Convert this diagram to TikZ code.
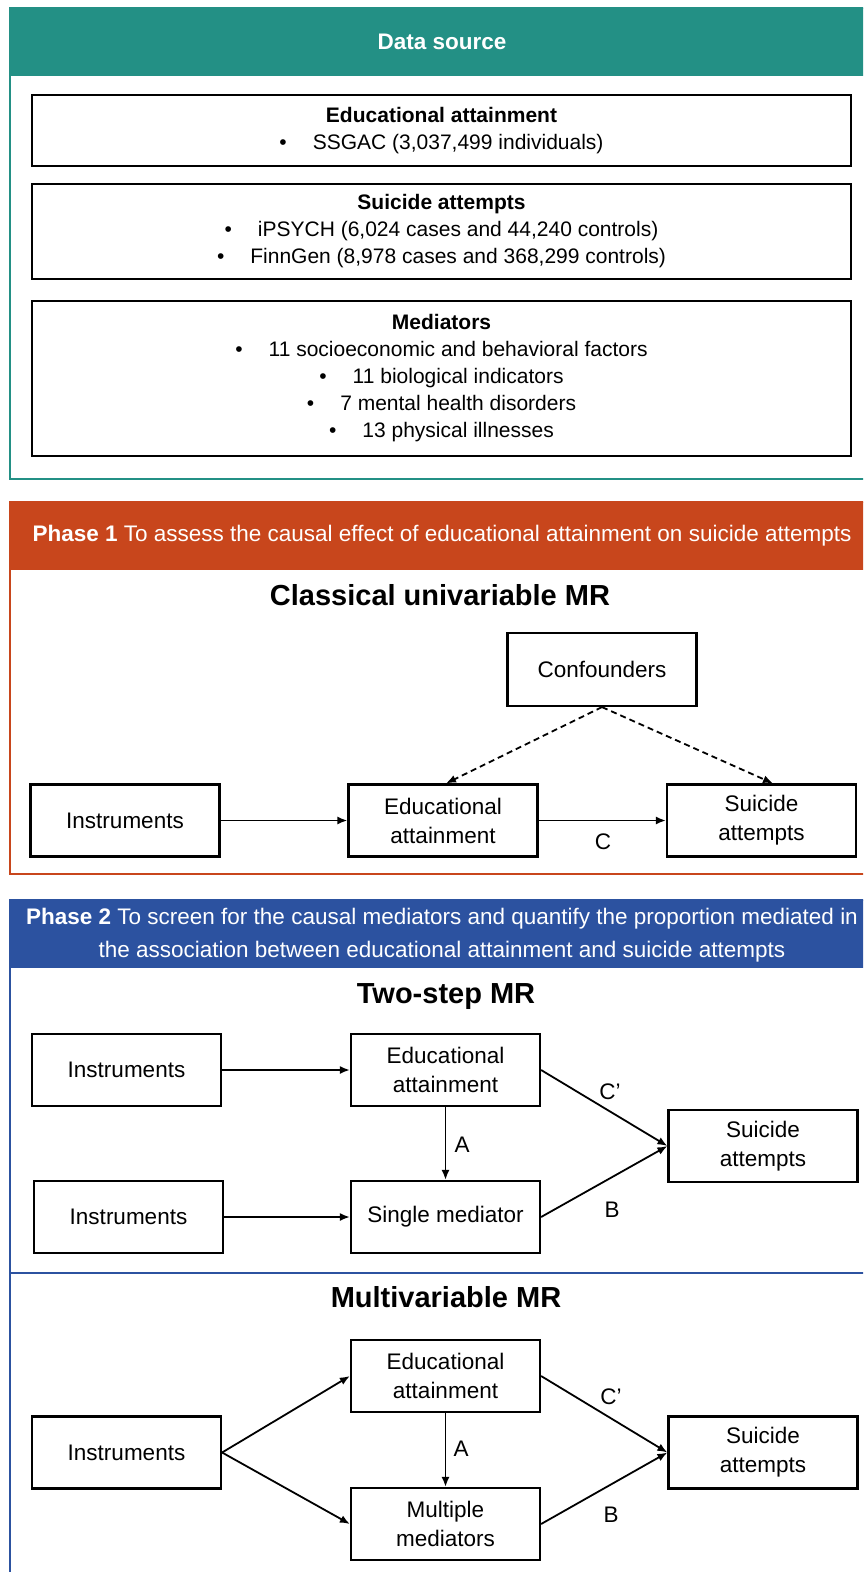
\documentclass[tikz,border=0pt]{standalone}
\usepackage{fontspec}
\setmainfont{Liberation Sans}
\usetikzlibrary{arrows.meta,calc}
\definecolor{tealh}{HTML}{239085}
\definecolor{orngh}{HTML}{C8461C}
\definecolor{bluh}{HTML}{2C52A0}
\begin{document}
\begin{tikzpicture}[x=0.5pt,y=-0.5pt,
  box/.style={draw=black,line width=1.1pt,minimum width=94.5pt,minimum height=36pt,align=center,inner sep=0pt,font=\fontsize{11.25}{14.5}\selectfont},
  dbox/.style={draw=black,line width=1.1pt,minimum width=409.5pt,align=center,inner sep=0pt,font=\fontsize{10.5}{13.5}\selectfont},
  arr/.style={-{Latex[length=5pt,width=4pt]},line width=0.9pt},
  dasharr/.style={arr,dash pattern=on 3pt off 2pt},
  lbl/.style={font=\fontsize{11.25}{13}\selectfont,inner sep=0pt},
  ttl/.style={font=\bfseries\fontsize{14.5}{17}\selectfont,inner sep=0pt},
  hdr/.style={text=white,font=\fontsize{11.25}{16.5}\selectfont,align=center,inner sep=0pt},
  panel/.style={line width=1pt},
]
\useasboundingbox (0,0) rectangle (863,1572);
\clip (0,0) rectangle (863,1572);
\fill[white] (0,0) rectangle (863,1572);

% ---------- Data source ----------
\draw[panel,draw=tealh] (10,8) rectangle (900,479);
\fill[tealh] (10,8) rectangle (900,76);
\node[hdr,font=\bfseries\fontsize{11.25}{13}\selectfont] (h0) at (442,42) {Data source};

\node[dbox,minimum height=35.5pt] (d1) at (441.5,130.5) {\textbf{Educational attainment}\\\textbullet\hspace{13pt}SSGAC (3,037,499 individuals)};
\node[dbox,minimum height=47.5pt] (d2) at (441.5,231.5) {\textbf{Suicide attempts}\\\textbullet\hspace{13pt}iPSYCH (6,024 cases and 44,240 controls)\\\textbullet\hspace{13pt}FinnGen (8,978 cases and 368,299 controls)};
\node[dbox,minimum height=77.5pt] (d3) at (441.5,378.5) {\textbf{Mediators}\\\textbullet\hspace{13pt}11 socioeconomic and behavioral factors\\\textbullet\hspace{13pt}11 biological indicators\\\textbullet\hspace{13pt}7 mental health disorders\\\textbullet\hspace{13pt}13 physical illnesses};

% ---------- Phase 1 ----------
\draw[panel,draw=orngh] (10,502) rectangle (900,874);
\fill[orngh] (10,502) rectangle (900,570);
\node[hdr] (h1) at (442,536) {\textbf{Phase 1} To assess the causal effect of educational attainment on suicide attempts};
\node[ttl] (t1) at (440,595) {Classical univariable MR};

\node[box] (p1i) at (125,820.5) {Instruments};
\node[box] (p1e) at (443,820.5) {Educational\\attainment};
\node[box] (p1s) at (761.5,820.5) {Suicide\\attempts};
\node[box,minimum height=36.5pt] (p1c) at (602,669.5) {Confounders};
\draw[arr] (p1i) -- (p1e);
\draw[arr] (p1e) -- (p1s);
\node[lbl] (lc) at (603,842) {C};
\draw[dasharr] (p1c.south) -- ($(p1e.north)+(3,0)$);
\draw[dasharr] (p1c.south) -- ($(p1s.north)+(11.5,0)$);

% ---------- Phase 2 ----------
\draw[panel,draw=bluh] (10,900) rectangle (900,1600);
\fill[bluh] (10,900) rectangle (900,968);
\draw[bluh,line width=1.2pt] (10,1273) -- (900,1273);
\node[hdr] (h2) at (442,935) {\textbf{Phase 2} To screen for the causal mediators and quantify the proportion mediated in\\the association between educational attainment and suicide attempts};

% Two-step MR
\node[ttl] (t2) at (446,997) {Two-step MR};
\node[box] (a1) at (126.5,1070) {Instruments};
\node[box] (ae) at (445.5,1070) {Educational\\attainment};
\node[box] (a2) at (128.5,1217) {Instruments};
\node[box] (am) at (445.5,1217) {Single mediator};
\node[box] (as) at (763,1146) {Suicide\\attempts};
\draw[arr] (a1) -- (ae);
\draw[arr] (a2) -- (am);
\draw[arr] (ae) -- (am);
\draw[arr] (ae.east) -- (as.west);
\draw[arr] (am.east) -- (as.west);
\node[lbl] (aA) at (462,1145) {A};
\node[lbl] (aC) at (610,1092) {C’};
\node[lbl] (aB) at (612,1210) {B};

% Multivariable MR
\node[ttl] (t3) at (446,1297) {Multivariable MR};
\node[box] (bi) at (126.5,1452.5) {Instruments};
\node[box] (be) at (445.5,1376) {Educational\\attainment};
\node[box] (bm) at (445.5,1524) {Multiple\\mediators};
\node[box] (bs) at (763,1452.5) {Suicide\\attempts};
\draw[arr] (bi.east) -- (be.west);
\draw[arr] (bi.east) -- (bm.west);
\draw[arr] (be) -- (bm);
\draw[arr] (be.east) -- (bs.west);
\draw[arr] (bm.east) -- (bs.west);
\node[lbl] (bA) at (461,1449) {A};
\node[lbl] (bC) at (611,1397) {C’};
\node[lbl] (bB) at (611,1515) {B};
\end{tikzpicture}
\end{document}
